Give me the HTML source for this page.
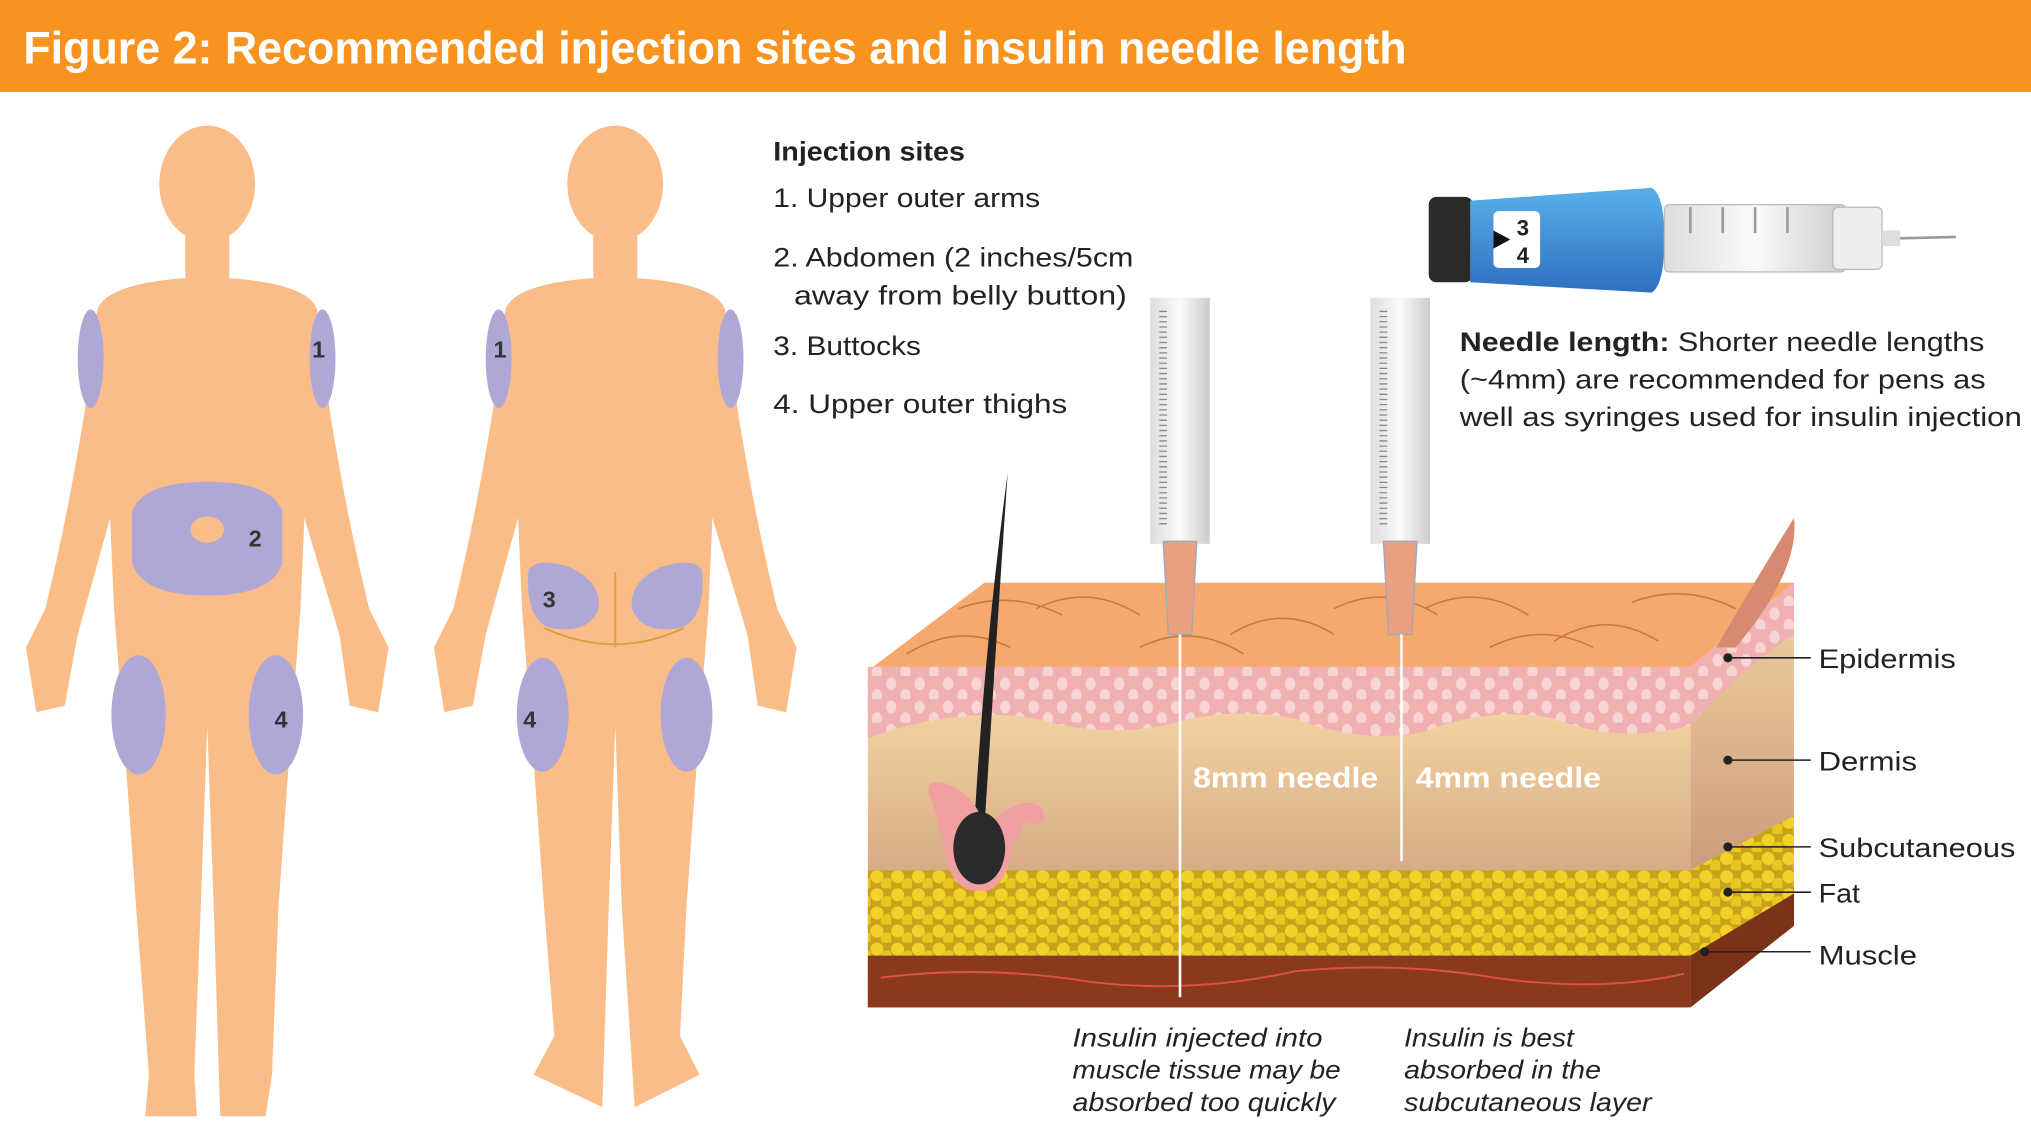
<!DOCTYPE html>
<html><head><meta charset="utf-8"><style>
html,body{margin:0;padding:0;background:#fff}
svg{display:block}
text{font-family:"Liberation Sans",sans-serif}
</style></head><body>
<svg width="2031" height="1146" viewBox="0 0 1568 885" preserveAspectRatio="none" xmlns="http://www.w3.org/2000/svg">
<defs>
<linearGradient id="derm" x1="0" y1="0" x2="0" y2="1"><stop offset="0" stop-color="#F9DDA8"/><stop offset="1" stop-color="#C08A70"/></linearGradient>
<linearGradient id="side" x1="0" y1="0" x2="0" y2="1"><stop offset="0" stop-color="#F3D2A4"/><stop offset="1" stop-color="#B98268"/></linearGradient>
<linearGradient id="pen" x1="0" y1="0" x2="0" y2="1"><stop offset="0" stop-color="#5BB0E8"/><stop offset="1" stop-color="#2E6FC0"/></linearGradient>
<linearGradient id="barrel" x1="0" y1="0" x2="1" y2="0"><stop offset="0" stop-color="#ddd"/><stop offset=".5" stop-color="#fafafa"/><stop offset="1" stop-color="#ccc"/></linearGradient>
<pattern id="fat" width="16" height="14" patternUnits="userSpaceOnUse"><rect width="16" height="14" fill="#C9A21C"/><circle cx="5" cy="5" r="5" fill="#F2D22A"/><circle cx="13" cy="11" r="5" fill="#E8C820"/></pattern>
<pattern id="epi" width="22" height="18" patternUnits="userSpaceOnUse"><rect width="22" height="18" fill="#F0AFB0"/><ellipse cx="6" cy="6" rx="4" ry="5" fill="#F8D4D4"/><ellipse cx="17" cy="15" rx="4" ry="5" fill="#F8D4D4"/></pattern>
</defs>
<rect x="0" y="0" width="1568" height="71" fill="#F7931E"/>
<text x="18" y="49" font-size="35" font-weight="bold" fill="#fff" textLength="1068" lengthAdjust="spacingAndGlyphs">Figure 2: Recommended injection sites and insulin needle length</text>

<!-- front body -->
<g fill="#FBBD87">
<ellipse cx="160" cy="142" rx="37" ry="45"/>
<rect x="143" y="175" width="34" height="50"/>
<path d="M75,240 Q80,220 140,215 L180,215 Q240,220 245,240 L255,320 Q268,400 285,470 L300,500 L292,550 L270,545 L262,490 L235,400 L232,470 L225,560 L215,700 L210,830 L205,862 L170,862 L165,700 L160,560 L155,700 L150,830 L152,862 L112,862 L115,830 L105,700 L95,560 L88,470 L85,400 L60,490 L50,545 L28,550 L20,500 L35,470 Q52,400 65,320 Z"/>
</g>
<ellipse cx="70" cy="277" rx="10" ry="38" fill="#AFA8D6"/>
<ellipse cx="249" cy="277" rx="10" ry="38" fill="#AFA8D6"/>
<path d="M102,395 Q110,372 160,372 Q210,372 218,395 L218,435 Q210,460 160,460 Q110,460 102,435 Z" fill="#AFA8D6"/>
<ellipse cx="160" cy="409" rx="13" ry="10" fill="#FBBD87"/>
<ellipse cx="107" cy="552" rx="21" ry="46" fill="#AFA8D6"/>
<ellipse cx="213" cy="552" rx="21" ry="46" fill="#AFA8D6"/>
<g font-size="18" font-weight="bold" fill="#333"><text x="241" y="276">1</text><text x="192" y="422">2</text><text x="212" y="562">4</text></g>

<!-- back body -->
<g fill="#FBBD87">
<ellipse cx="475" cy="142" rx="37" ry="45"/>
<rect x="458" y="175" width="34" height="50"/>
<path d="M390,240 Q395,220 455,215 L495,215 Q555,220 560,240 L570,320 Q583,400 600,470 L615,500 L607,550 L585,545 L577,490 L550,400 L547,470 L540,560 L530,700 L525,800 L540,830 L490,855 L480,700 L475,560 L470,700 L465,855 L412,830 L428,800 L420,700 L410,560 L403,470 L400,400 L375,490 L365,545 L343,550 L335,500 L350,470 Q367,400 380,320 Z"/>
</g>
<ellipse cx="385" cy="277" rx="10" ry="38" fill="#AFA8D6"/>
<ellipse cx="564" cy="277" rx="10" ry="38" fill="#AFA8D6"/>
<path d="M408,440 Q415,430 440,438 Q465,450 462,470 Q455,490 425,485 Q405,478 408,440 Z" fill="#AFA8D6"/>
<path d="M542,440 Q535,430 510,438 Q485,450 488,470 Q495,490 525,485 Q545,478 542,440 Z" fill="#AFA8D6"/>
<path d="M475,442 L475,500 M420,485 Q475,510 528,485" stroke="#D9A040" stroke-width="1.5" fill="none"/>
<ellipse cx="419" cy="552" rx="20" ry="44" fill="#AFA8D6"/>
<ellipse cx="530" cy="552" rx="20" ry="44" fill="#AFA8D6"/>
<g font-size="18" font-weight="bold" fill="#333"><text x="381" y="276">1</text><text x="419" y="469">3</text><text x="404" y="562">4</text></g>

<!-- injection sites text -->
<g font-size="21" fill="#222" lengthAdjust="spacingAndGlyphs">
<text x="597" y="124" font-weight="bold" textLength="148" lengthAdjust="spacingAndGlyphs">Injection sites</text>
<text x="597" y="160" textLength="206" lengthAdjust="spacingAndGlyphs">1. Upper outer arms</text>
<text x="597" y="206" textLength="278" lengthAdjust="spacingAndGlyphs">2. Abdomen (2 inches/5cm</text>
<text x="613" y="235" textLength="257" lengthAdjust="spacingAndGlyphs">away from belly button)</text>
<text x="597" y="274" textLength="114" lengthAdjust="spacingAndGlyphs">3. Buttocks</text>
<text x="597" y="319" textLength="227" lengthAdjust="spacingAndGlyphs">4. Upper outer thighs</text>
<text x="1127" y="271" textLength="405" lengthAdjust="spacingAndGlyphs"><tspan font-weight="bold">Needle length:</tspan> Shorter needle lengths</text>
<text x="1127" y="300" textLength="406" lengthAdjust="spacingAndGlyphs">(~4mm) are recommended for pens as</text>
<text x="1127" y="329" textLength="434" lengthAdjust="spacingAndGlyphs">well as syringes used for insulin injection</text>
</g>

<!-- pen -->
<rect x="1103" y="152" width="34" height="66" rx="6" fill="#2a2a2a"/>
<path d="M1135,155 L1275,145 Q1285,150 1285,185 Q1285,220 1275,226 L1135,218 Z" fill="url(#pen)"/>
<rect x="1153" y="163" width="36" height="44" rx="4" fill="#fff"/>
<text x="1171" y="182" font-size="17" font-weight="bold" fill="#222">3</text>
<text x="1171" y="203" font-size="17" font-weight="bold" fill="#222">4</text>
<path d="M1153,178 L1166,185 L1153,192 Z" fill="#111"/>
<rect x="1285" y="158" width="140" height="52" rx="4" fill="url(#barrel)" stroke="#bbb"/>
<g stroke="#999" stroke-width="2"><line x1="1305" y1="160" x2="1305" y2="180"/><line x1="1330" y1="160" x2="1330" y2="180"/><line x1="1355" y1="160" x2="1355" y2="180"/><line x1="1380" y1="160" x2="1380" y2="180"/></g>
<rect x="1415" y="160" width="38" height="48" rx="4" fill="#eee" stroke="#bbb"/>
<rect x="1453" y="178" width="14" height="12" fill="#ddd"/>
<line x1="1467" y1="184" x2="1510" y2="183" stroke="#999" stroke-width="2"/>

<!-- skin block -->
<polygon points="670,518 760,450 1385,450 1305,515" fill="#F5A96E"/>
<path d="M700,505 Q740,480 780,500 M800,470 Q840,450 880,475 M950,490 Q990,465 1030,490 M1100,470 Q1140,450 1180,475 M1200,495 Q1240,470 1280,495 M740,470 Q780,455 820,475 M880,500 Q920,480 960,505 M1030,470 Q1070,450 1110,475 M1150,500 Q1190,480 1230,500 M1260,465 Q1300,450 1340,470" stroke="#C97A3A" fill="none" stroke-width="1.2"/>
<polygon points="1305,515 1385,450 1385,715 1305,778" fill="url(#side)"/>
<rect x="670" y="515" width="635" height="263" fill="url(#derm)"/>
<path d="M670,515 L1305,515 L1305,560 Q1250,575 1200,555 Q1150,545 1100,565 Q1050,575 1000,555 Q950,545 900,560 Q850,570 800,555 Q740,545 670,570 Z" fill="url(#epi)"/>
<path d="M1305,515 L1385,450 L1385,490 Q1340,520 1305,560 Z" fill="url(#epi)"/>
<path d="M1325,500 Q1360,440 1385,400 Q1390,440 1340,500 Z" fill="#D88A70"/>
<rect x="670" y="672" width="635" height="70" fill="url(#fat)"/>
<polygon points="1305,672 1385,630 1385,690 1305,742" fill="url(#fat)"/>
<rect x="670" y="738" width="635" height="40" fill="#8A3A1C"/>
<polygon points="1305,738 1385,690 1385,715 1305,778" fill="#7A3218"/>
<path d="M680,755 Q760,745 840,758 Q920,768 1000,750 Q1080,742 1160,756 Q1240,766 1300,752" stroke="#E0504A" fill="none" stroke-width="1.5"/>
<!-- hair -->
<path d="M778,365 Q770,480 760,640 L752,640 Q760,500 778,365 Z" fill="#222"/>
<path d="M720,620 Q710,600 730,605 Q755,615 760,640 Q790,610 805,625 Q810,640 790,635 L780,660 Q775,690 755,688 Q735,688 730,660 Z" fill="#F0A0A0"/>
<ellipse cx="756" cy="655" rx="20" ry="28" fill="#2a2a2a"/>
<!-- syringes -->
<rect x="888" y="230" width="46" height="190" fill="url(#barrel)"/>
<path d="M898,418 L924,418 L920,490 L902,490 Z" fill="#EAA080" stroke="#9ab" />
<line x1="911" y1="490" x2="911" y2="770" stroke="#fff" stroke-width="2"/>
<rect x="1058" y="230" width="46" height="190" fill="url(#barrel)"/>
<path d="M1068,418 L1094,418 L1090,490 L1072,490 Z" fill="#EAA080" stroke="#9ab"/>
<line x1="1082" y1="490" x2="1082" y2="665" stroke="#fff" stroke-width="2"/>
<g stroke="#888" stroke-width="1"><path d="M898,240 V405 M1068,240 V405" stroke-dasharray="1 3" stroke-width="6"/></g>
<text x="921" y="608" font-size="22" font-weight="bold" fill="#fff" textLength="143" lengthAdjust="spacingAndGlyphs">8mm needle</text>
<text x="1093" y="608" font-size="22" font-weight="bold" fill="#fff" textLength="143" lengthAdjust="spacingAndGlyphs">4mm needle</text>

<!-- labels -->
<g stroke="#222" stroke-width="1.2"><line x1="1334" y1="508" x2="1398" y2="508"/><line x1="1334" y1="587" x2="1398" y2="587"/><line x1="1334" y1="654" x2="1398" y2="654"/><line x1="1334" y1="689" x2="1398" y2="689"/><line x1="1316" y1="735" x2="1398" y2="735"/></g>
<g fill="#222"><circle cx="1334" cy="508" r="3.5"/><circle cx="1334" cy="587" r="3.5"/><circle cx="1334" cy="654" r="3.5"/><circle cx="1334" cy="689" r="3.5"/><circle cx="1316" cy="735" r="3.5"/></g>
<g font-size="21" fill="#222">
<text x="1404" y="516" textLength="106" lengthAdjust="spacingAndGlyphs">Epidermis</text>
<text x="1404" y="595" textLength="76" lengthAdjust="spacingAndGlyphs">Dermis</text>
<text x="1404" y="662" textLength="152" lengthAdjust="spacingAndGlyphs">Subcutaneous</text>
<text x="1404" y="697" textLength="32" lengthAdjust="spacingAndGlyphs">Fat</text>
<text x="1404" y="745" textLength="76" lengthAdjust="spacingAndGlyphs">Muscle</text>
</g>
<g font-size="20" font-style="italic" fill="#222">
<text x="828" y="808" textLength="193" lengthAdjust="spacingAndGlyphs">Insulin injected into</text>
<text x="828" y="833" textLength="207" lengthAdjust="spacingAndGlyphs">muscle tissue may be</text>
<text x="828" y="858" textLength="203" lengthAdjust="spacingAndGlyphs">absorbed too quickly</text>
<text x="1084" y="808" textLength="131" lengthAdjust="spacingAndGlyphs">Insulin is best</text>
<text x="1084" y="833" textLength="152" lengthAdjust="spacingAndGlyphs">absorbed in the</text>
<text x="1084" y="858" textLength="191" lengthAdjust="spacingAndGlyphs">subcutaneous layer</text>
</g>
</svg>
</body></html>
